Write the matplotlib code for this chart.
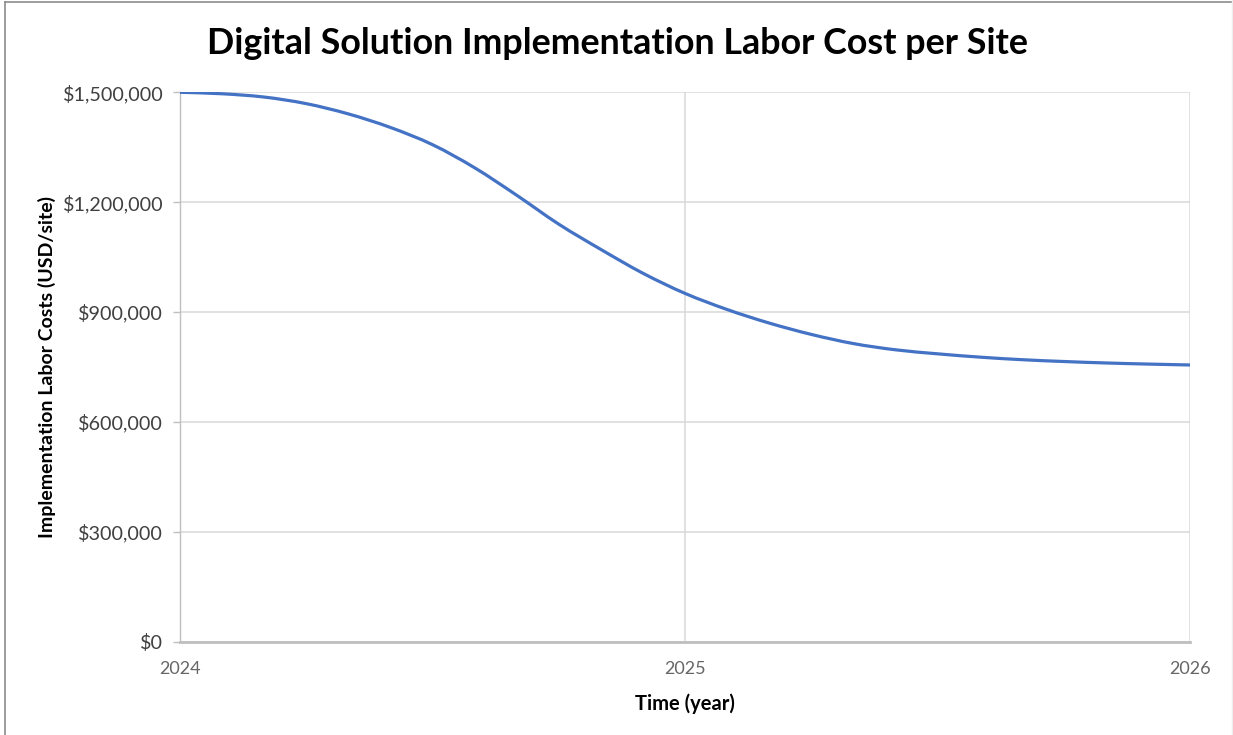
import numpy as np
import matplotlib.pyplot as plt
from matplotlib.lines import Line2D
from matplotlib.path import Path
from matplotlib.patches import PathPatch
from matplotlib.ticker import FuncFormatter, FixedLocator

plt.rcParams['font.family'] = ['Lato', 'DejaVu Sans']

# monthly labor cost per site, Jan 2024 through Jan 2026
months = np.arange(25)
years = 2024 + months / 12
cost = [1500000, 1496000, 1487000, 1469000, 1441000, 1404000, 1357000,
        1294000, 1219000, 1140000, 1071000, 1006000, 951000, 907000,
        870000, 839000, 814000, 797000, 786000, 777000, 770000, 765000,
        761000, 758000, 755500]

y_ticks = [0, 300000, 600000, 900000, 1200000, 1500000]
x_ticks = [2024, 2025, 2026]


def smooth_path(x, y):
    """Catmull-Rom style bezier through every point (like a smoothed line)."""
    pts = np.column_stack([x, y]).astype(float)
    padded = np.vstack([pts[0], pts, pts[-1]])
    verts = [pts[0]]
    codes = [Path.MOVETO]
    for i in range(1, len(padded) - 2):
        p0, p1, p2, p3 = padded[i - 1], padded[i], padded[i + 1], padded[i + 2]
        verts += [p1 + (p2 - p0) / 6, p2 - (p3 - p1) / 6, p2]
        codes += [Path.CURVE4] * 3
    return Path(verts, codes)


fig = plt.figure(figsize=(12.33, 7.35), dpi=100)
ax = fig.add_axes([180 / 1233, 93.3 / 735, 1010 / 1233, 549.4 / 735])

ax.add_patch(PathPatch(smooth_path(years, cost), fill=False,
                       edgecolor='#4472C4', lw=2.3, capstyle='round', zorder=3))

ax.set_xlim(2024, 2026)
ax.set_ylim(0, 1500000)
ax.xaxis.set_major_locator(FixedLocator(x_ticks))
ax.yaxis.set_major_locator(FixedLocator(y_ticks))
ax.yaxis.set_major_formatter(FuncFormatter(lambda v, p: f"${v:,.0f}"))
ax.xaxis.set_major_formatter(FuncFormatter(lambda v, p: f"{v:.0f}"))

ax.grid(True, color='#D9D9D9', lw=1.1, zorder=0)
for side in ['top', 'right']:
    ax.spines[side].set_visible(False)
ax.spines['left'].set_color('#BFBFBF')
ax.spines['left'].set_linewidth(1.0)
ax.spines['bottom'].set_color('#BFBFBF')
ax.spines['bottom'].set_linewidth(2.0)

ax.tick_params(axis='y', length=5, width=1, color='#BFBFBF', pad=7,
               labelsize=14.2, labelcolor='#404040')
ax.tick_params(axis='x', length=0, pad=14, labelsize=13, labelcolor='#666666')

ax.set_ylabel('Implementation Labor Costs (USD/site)', fontsize=14,
              fontweight='bold', labelpad=5)
ax.set_xlabel('Time (year)', fontsize=14.5, fontweight='bold', labelpad=12)

fig.text(0.501, 0.941, 'Digital Solution Implementation Labor Cost per Site',
         ha='center', va='center', fontsize=25.8, fontweight='bold')

# chart outline: top and left edges, faint right edge
fig.add_artist(Line2D([4.5 / 1233, 1], [1 - 1.5 / 735] * 2,
                      transform=fig.transFigure, color='#8C8C8C', lw=1.2))
fig.add_artist(Line2D([4.5 / 1233] * 2, [0, 1 - 1.5 / 735],
                      transform=fig.transFigure, color='#8C8C8C', lw=1.2))
fig.add_artist(Line2D([1 - 1.5 / 1233] * 2, [0, 1],
                      transform=fig.transFigure, color='#EEEEEE', lw=1.0))

fig.savefig('out.png', dpi=100)
